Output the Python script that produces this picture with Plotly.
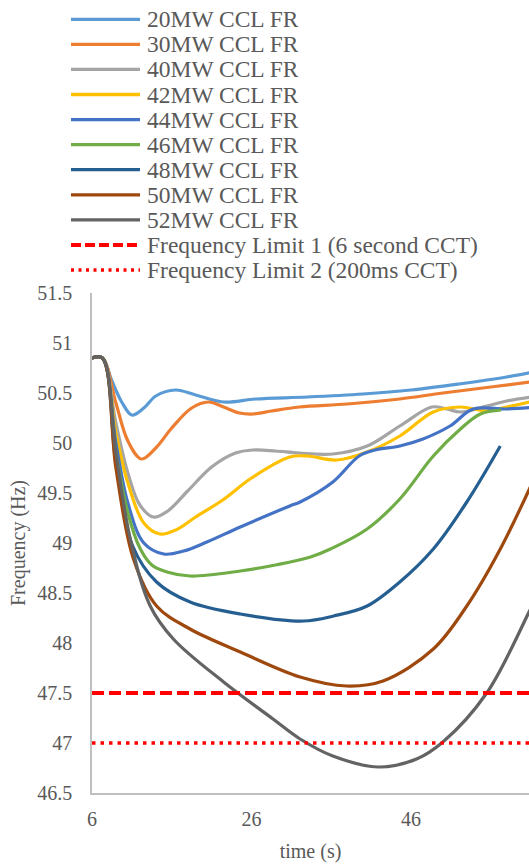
import plotly.graph_objects as go

# ---------------- data ----------------
names = ["20MW CCL FR", "30MW CCL FR", "40MW CCL FR", "42MW CCL FR", "44MW CCL FR",
         "46MW CCL FR", "48MW CCL FR", "50MW CCL FR", "52MW CCL FR"]
colors = ["#5B9BD5", "#ED7D31", "#A5A5A5", "#FFC000", "#4472C4",
          "#70AD47", "#255E91", "#9E480E", "#636363"]

t20 = [6, 7.3, 8.5, 9.8, 11, 12.5, 14, 16.5, 19, 22.5, 26.5, 33, 40, 46, 52, 58, 62]
f20 = [50.85, 50.85, 50.62, 50.4, 50.28, 50.35, 50.47, 50.53, 50.48, 50.41, 50.44, 50.46, 50.49, 50.53, 50.59, 50.66, 50.72]

t30 = [6, 7.3, 9, 10.5, 12.2, 14, 16, 18.5, 20.6, 22.5, 24.5, 26.2, 28.5, 32, 38, 44.6, 50, 56, 62]
f30 = [50.85, 50.85, 50.4, 50.02, 49.84, 49.95, 50.15, 50.35, 50.41, 50.36, 50.3, 50.29, 50.32, 50.36, 50.39, 50.44, 50.5, 50.56, 50.62]

t40 = [6, 7.3, 9, 10.5, 12, 13.7, 15.5, 18, 21, 24, 26.2, 29, 32, 36.2, 40.5, 44.6, 48.6, 50.5, 52.2, 55.5, 58, 62]
f40 = [50.85, 50.85, 50.2, 49.7, 49.38, 49.26, 49.32, 49.52, 49.76, 49.9, 49.93, 49.92, 49.9, 49.89, 49.97, 50.17, 50.36, 50.34, 50.31, 50.37, 50.42, 50.47]

t42 = [6, 7.3, 9, 10.5, 12.5, 14.5, 16.5, 19, 22.4, 26, 30.8, 33, 36.7, 40.5, 44.6, 48.8, 52.2, 55.5, 58, 62]
f42 = [50.85, 50.85, 50.1, 49.6, 49.2, 49.09, 49.13, 49.26, 49.43, 49.65, 49.86, 49.87, 49.83, 49.91, 50.07, 50.31, 50.36, 50.32, 50.36, 50.43]

t44 = [6, 7.3, 9, 10.5, 12.5, 15, 17.5, 20.4, 24.6, 30.8, 32.1, 36.2, 39.5, 41.5, 44.6, 47.5, 50.9, 53.8, 58, 62]
f44 = [50.85, 50.85, 50.0, 49.4, 49.0, 48.89, 48.92, 49.01, 49.16, 49.37, 49.41, 49.61, 49.87, 49.93, 49.97, 50.04, 50.17, 50.34, 50.34, 50.36]

t46 = [6, 7.3, 9, 10.5, 12, 13.5, 15.4, 18.3, 24.6, 29, 33.4, 35.9, 40.5, 44.6, 48.8, 52.2, 54.7, 57.3]
f46 = [50.85, 50.85, 49.9, 49.3, 48.95, 48.78, 48.71, 48.67, 48.72, 48.78, 48.86, 48.94, 49.14, 49.44, 49.87, 50.14, 50.29, 50.33]

t48 = [6, 7.3, 9, 11.1, 14.1, 18.3, 24.6, 32.5, 36.3, 40.5, 44.6, 48.8, 53, 57.2]
f48 = [50.85, 50.85, 49.8, 48.97, 48.61, 48.41, 48.29, 48.22, 48.27, 48.37, 48.61, 48.94, 49.41, 49.97]

t50 = [6, 7.3, 9, 11.2, 14.1, 18.3, 24.6, 32.1, 37.9, 42.5, 48.8, 53, 57.2, 62]
f50 = [50.85, 50.85, 49.75, 48.84, 48.37, 48.14, 47.91, 47.66, 47.57, 47.62, 47.94, 48.37, 48.94, 49.74]

t52 = [6, 7.3, 9, 10.8, 13.3, 16.2, 22.5, 28.7, 32.1, 36.2, 41.9, 46.7, 50, 55.5, 60.8, 62]
f52 = [50.85, 50.85, 49.9, 49.04, 48.37, 48.04, 47.61, 47.24, 47.04, 46.87, 46.76, 46.84, 47.01, 47.5, 48.31, 48.51]

times = [t20, t30, t40, t42, t44, t46, t48, t50, t52]
freqs = [f20, f30, f40, f42, f44, f46, f48, f50, f52]

limit_names = ["Frequency Limit 1 (6 second CCT)", "Frequency Limit 2 (200ms CCT)"]
limit_values = [47.5, 47.0]
limit_t = [6, 62]

x_ticks = [6, 26, 46]

# ---------------- figure ----------------
FONT = "'Liberation Serif', 'Times New Roman', 'DejaVu Serif', serif"
TXT = "#595959"

fig = go.Figure()
for n, c, t, f in zip(names, colors, times, freqs):
    fig.add_trace(go.Scatter(x=t, y=f, mode="lines", name=n,
                             line=dict(color=c, width=3.2, shape="spline", smoothing=1.0),
                             showlegend=False))

limit_dash = ["12px,5px", "3.5px,5px"]
limit_width = [4, 3.5]
for n, v, d, w in zip(limit_names, limit_values, limit_dash, limit_width):
    fig.add_trace(go.Scatter(x=limit_t, y=[v, v], mode="lines", name=n,
                             line=dict(color="#FF0000", width=w, dash=d),
                             showlegend=False))

# manual legend (tight Excel-like spacing)
L, W, T, H = 92, 437, 293, 500
def px2x(px):
    return (px - L) / W
def py2y(py):
    return (T + H - py) / H

legend_names = names + limit_names
legend_colors = colors + ["#FF0000", "#FF0000"]
legend_dash = ["solid"] * len(names) + ["10px,4px", "3px,4.5px"]
legend_width = [3.3] * len(names) + [4, 3.5]
for i, (n, c, d, w) in enumerate(zip(legend_names, legend_colors, legend_dash, legend_width)):
    yc = py2y(19.3 + 25.07 * i)
    fig.add_shape(type="line", xref="paper", yref="paper",
                  x0=px2x(71), x1=px2x(140), y0=yc, y1=yc,
                  line=dict(color=c, width=w, dash=d))
    fig.add_annotation(xref="paper", yref="paper", x=px2x(145), y=yc,
                       xanchor="left", yanchor="middle", text=n, showarrow=False,
                       font=dict(family=FONT, size=23.5, color=TXT))

fig.update_layout(
    width=529, height=864,
    margin=dict(l=L, r=0, t=T, b=864 - T - H, pad=0),
    paper_bgcolor="white", plot_bgcolor="white",
    font=dict(family=FONT, size=20, color=TXT),
    showlegend=False,
)
fig.update_xaxes(range=[6, 60.8], tickvals=x_ticks, ticktext=[str(v) for v in x_ticks],
                 showline=True, linecolor="#BFBFBF", linewidth=1.5, ticks="",
                 showgrid=False, zeroline=False, ticklabelstandoff=7,
                 tickfont=dict(family=FONT, size=20, color=TXT),
                 title=dict(text="time (s)", font=dict(family=FONT, size=20, color=TXT), standoff=15))
fig.update_yaxes(range=[46.5, 51.5], tick0=46.5, dtick=0.5,
                 showline=True, linecolor="#BFBFBF", linewidth=1.5, ticks="",
                 showgrid=False, zeroline=False, ticklabelstandoff=14,
                 tickfont=dict(family=FONT, size=20, color=TXT),
                 title=dict(text="Frequency (Hz)", font=dict(family=FONT, size=20, color=TXT), standoff=6))

fig.write_html("out.html")
